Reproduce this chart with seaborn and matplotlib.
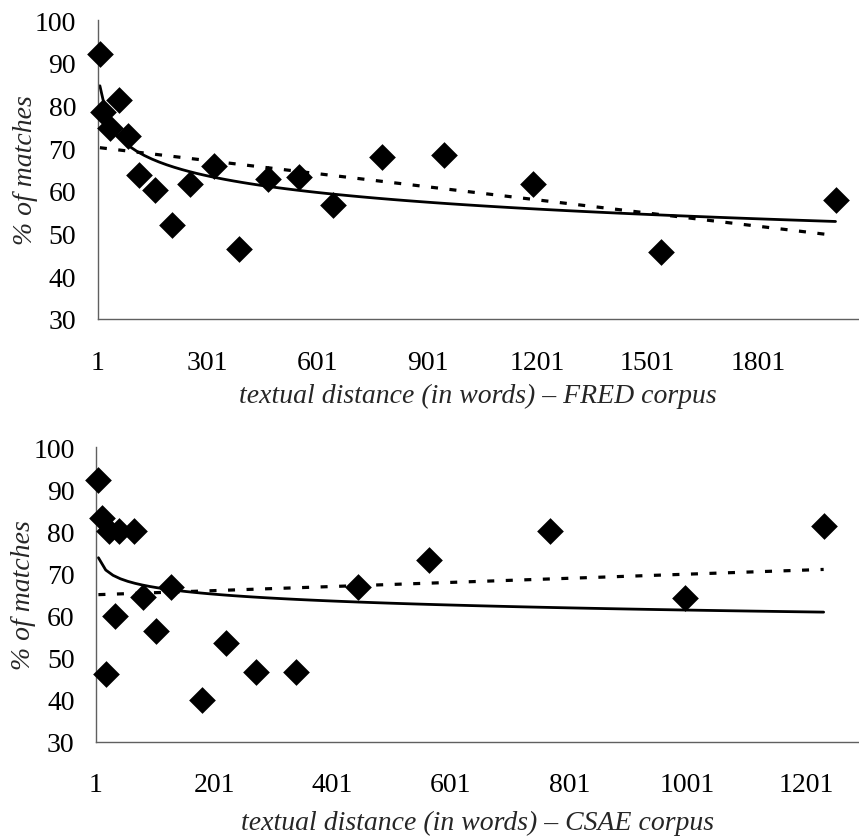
import numpy as np
import pandas as pd
import seaborn as sns
import matplotlib.pyplot as plt

# FRED corpus: textual distance (words) vs % of matches
fred_dist = [7, 16, 35, 60, 84, 114, 157, 205, 253, 319, 386, 465, 551, 644, 777, 946, 1187, 1537, 2013]
fred_pct = [92.0, 78.4, 74.6, 81.3, 72.8, 63.8, 60.3, 52.0, 61.5, 65.9, 46.5, 62.7, 63.2, 56.8, 68.0, 68.4, 61.6, 45.8, 57.8]

# CSAE corpus
csae_dist = [5, 11, 17, 23, 33, 40, 65, 80, 102, 128, 180, 221, 271, 339, 443, 564, 768, 997, 1231]
csae_pct = [92.2, 83.3, 46.1, 80.0, 60.0, 80.0, 80.0, 64.3, 56.2, 66.7, 40.0, 53.4, 46.6, 46.6, 66.7, 73.3, 80.0, 64.2, 81.2]

fred_ticks = [1, 301, 601, 901, 1201, 1501, 1801]
csae_ticks = [1, 201, 401, 601, 801, 1001, 1201]
y_ticks = [30, 40, 50, 60, 70, 80, 90, 100]

sns.set_style("white")
plt.rcParams['font.family'] = ['Liberation Serif', 'DejaVu Serif']
plt.rcParams['font.size'] = 20

fig = plt.figure(figsize=(8.59, 8.37), dpi=100)
ax1 = fig.add_axes([0.1137, 0.6177, 0.885, 0.3572])
ax2 = fig.add_axes([0.1118, 0.1127, 0.887, 0.3517])


def draw_panel(ax, dist, pct, ticks, xmax, corpus, xlabelpad):
    df = pd.DataFrame({'dist': dist, 'pct': pct})
    # logarithmic trend (solid) and linear trend (dashed)
    sns.regplot(data=df, x='dist', y='pct', ax=ax, scatter=False, ci=None, logx=True,
                color='black', line_kws={'lw': 2.0})
    sns.regplot(data=df, x='dist', y='pct', ax=ax, scatter=False, ci=None,
                color='black', line_kws={'lw': 2.3, 'linestyle': (0, (2.2, 3.6))})
    sns.scatterplot(data=df, x='dist', y='pct', ax=ax, marker='D', s=185,
                    color='black', edgecolor='black', linewidth=0, zorder=5)

    ax.set_xlim(1, xmax)
    ax.set_ylim(30, 100)
    ax.set_xticks(ticks)
    ax.set_yticks(y_ticks)
    for s in ['top', 'right']:
        ax.spines[s].set_visible(False)
    for s in ['left', 'bottom']:
        ax.spines[s].set_color('#606060')
        ax.spines[s].set_linewidth(1.0)
    ax.tick_params(axis='both', direction='out', length=6.5, width=1.0, color='#606060',
                   labelsize=20, labelcolor='black')
    ax.tick_params(axis='x', pad=15.5)
    ax.tick_params(axis='y', pad=9)
    ax.set_xlabel(f'textual distance (in words) \u2013 {corpus} corpus', fontstyle='italic',
                  fontsize=20, labelpad=xlabelpad)
    ax.set_ylabel('% of matches', fontstyle='italic', fontsize=20, labelpad=-2)
    for c in ax.collections:
        c.set_clip_on(False)


draw_panel(ax1, fred_dist, fred_pct, fred_ticks, 2074, 'FRED', 6)
draw_panel(ax2, csae_dist, csae_pct, csae_ticks, 1289, 'CSAE', 9)

fig.savefig('out.png', dpi=100)
